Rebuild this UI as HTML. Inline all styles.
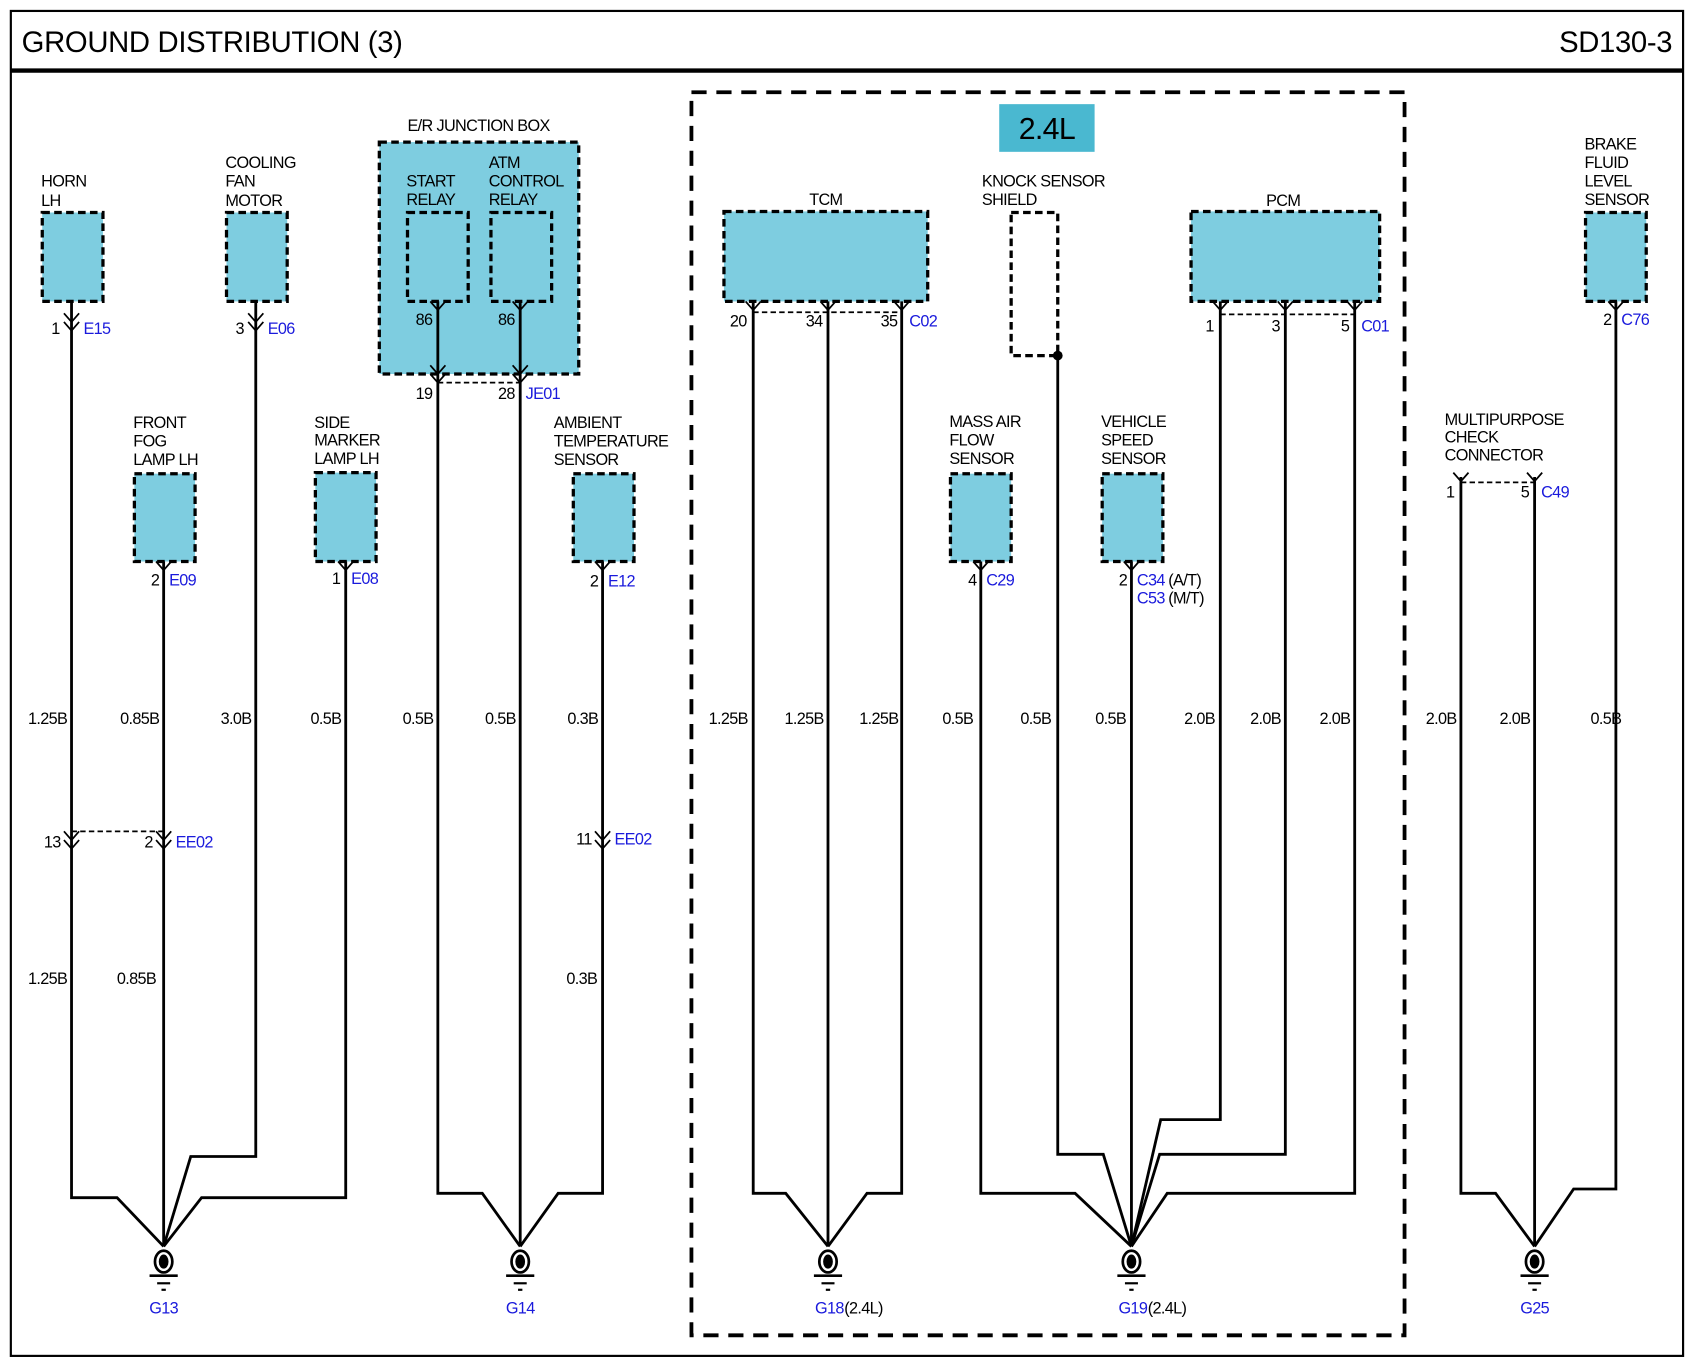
<!DOCTYPE html>
<html><head><meta charset="utf-8"><style>
html,body{margin:0;padding:0;background:#fff}
svg{display:block}
text{font-family:"Liberation Sans",sans-serif;font-size:15px;fill:#000;letter-spacing:-0.6px}
.b{fill:#1a1adc}
.box{fill:#7ecde0;stroke:#000;stroke-width:3;stroke-dasharray:7 4}
.w{fill:none;stroke:#000;stroke-width:2.6}
.c{fill:none;stroke:#000;stroke-width:1.6}
</style></head><body>
<svg width="1695" height="1369" viewBox="0 0 1564 1263" xmlns="http://www.w3.org/2000/svg">
<rect x="10" y="10" width="1543" height="1241" fill="none" stroke="#000" stroke-width="2"/>
<line x1="10" y1="65" x2="1553" y2="65" stroke="#000" stroke-width="4"/>
<text x="20" y="48" style="font-size:27px;letter-spacing:-0.3px">GROUND DISTRIBUTION (3)</text>
<text x="1543" y="48" text-anchor="end" style="font-size:27px;letter-spacing:-0.3px">SD130-3</text>

<rect x="638" y="85" width="658" height="1147" fill="none" stroke="#000" stroke-width="3.5" stroke-dasharray="14 9"/>
<rect x="922" y="96" width="88" height="44" fill="#4ab8d0"/>
<text x="966" y="128" text-anchor="middle" style="font-size:28px">2.4L</text>

<rect class="box" x="39" y="196" width="56" height="82"/>
<rect class="box" x="209" y="196" width="56" height="82"/>
<rect class="box" x="350" y="131" width="184" height="214"/>
<rect class="box" x="376" y="196" width="56" height="82"/>
<rect class="box" x="453" y="196" width="56" height="82"/>
<rect class="box" x="124" y="437" width="56" height="81"/>
<rect class="box" x="291" y="436" width="56" height="82"/>
<rect class="box" x="529" y="437" width="56" height="81"/>
<rect class="box" x="668" y="195" width="188" height="83"/>
<rect x="933" y="196" width="43" height="132" fill="#fff" stroke="#000" stroke-width="3" stroke-dasharray="7 4"/>
<circle cx="976" cy="328" r="4.5"/>
<rect class="box" x="1099" y="195" width="174" height="83"/>
<rect class="box" x="877" y="437" width="56" height="81"/>
<rect class="box" x="1017" y="437" width="56" height="81"/>
<rect class="box" x="1463" y="196" width="56" height="82"/>

<text x="38" y="172">HORN</text><text x="38" y="190">LH</text>
<text x="208" y="155">COOLING</text><text x="208" y="172">FAN</text><text x="208" y="190">MOTOR</text>
<text x="376" y="121">E/R JUNCTION BOX</text>
<text x="375" y="172">START</text><text x="375" y="189">RELAY</text>
<text x="451" y="155">ATM</text><text x="451" y="172">CONTROL</text><text x="451" y="189">RELAY</text>
<text x="123" y="395">FRONT</text><text x="123" y="412">FOG</text><text x="123" y="429">LAMP LH</text>
<text x="290" y="395">SIDE</text><text x="290" y="411">MARKER</text><text x="290" y="428">LAMP LH</text>
<text x="511" y="395">AMBIENT</text><text x="511" y="412">TEMPERATURE</text><text x="511" y="429">SENSOR</text>
<text x="762" y="189" text-anchor="middle">TCM</text>
<text x="906" y="172">KNOCK SENSOR</text><text x="906" y="189">SHIELD</text>
<text x="1184" y="190" text-anchor="middle">PCM</text>
<text x="876" y="394">MASS AIR</text><text x="876" y="411">FLOW</text><text x="876" y="428">SENSOR</text>
<text x="1016" y="394">VEHICLE</text><text x="1016" y="411">SPEED</text><text x="1016" y="428">SENSOR</text>
<text x="1462" y="138">BRAKE</text><text x="1462" y="155">FLUID</text><text x="1462" y="172">LEVEL</text><text x="1462" y="189">SENSOR</text>
<text x="1333" y="392">MULTIPURPOSE</text><text x="1333" y="408">CHECK</text><text x="1333" y="425">CONNECTOR</text>

<g class="w">
<path d="M66 278V1105H108L151 1150"/>
<path d="M151 518V1150"/>
<path d="M236 278V1067H176L151 1150"/>
<path d="M319 518V1105H186L151 1150"/>
<path d="M404 278V1101H445L480 1150"/>
<path d="M480 278V1150"/>
<path d="M556 518V1101H515L480 1150"/>
<path d="M695 278V1101H725L764 1150"/>
<path d="M764 278V1150"/>
<path d="M832 278V1101H800L764 1150"/>
<path d="M905 518V1101H992L1044 1150"/>
<path d="M976 328V1065H1018L1044 1150"/>
<path d="M1044 518V1150"/>
<path d="M1126 278V1033H1071L1044 1150"/>
<path d="M1186 278V1065H1070L1044 1150"/>
<path d="M1250 278V1101H1077L1044 1150"/>
<path d="M1348 440V1101H1380L1416 1150"/>
<path d="M1416 440V1150"/>
<path d="M1491 278V1097H1452L1416 1150"/>
</g>

<g class="c">
<path d="M59 289L66 297L73 289M59 297L66 305L73 297"/>
<path d="M229 289L236 297L243 289M229 297L236 305L243 297"/>
<path d="M397 278L404 286L411 278M397 337L404 345L411 337M397 345L404 353L411 345"/>
<path d="M473 278L480 286L487 278M473 337L480 345L487 337M473 345L480 353L487 345"/>
<path d="M144 518L151 526L158 518"/>
<path d="M312 518L319 526L326 518"/>
<path d="M549 518L556 526L563 518"/>
<path d="M688 278L695 286L702 278M757 278L764 286L771 278M825 278L832 286L839 278"/>
<path d="M1119 278L1126 286L1133 278M1179 278L1186 286L1193 278M1243 278L1250 286L1257 278"/>
<path d="M898 518L905 526L912 518"/>
<path d="M1037 518L1044 526L1051 518"/>
<path d="M1484 278L1491 286L1498 278"/>
<path d="M1341 436L1348 444L1355 436M1409 436L1416 444L1423 436"/>
<path d="M59 767L66 775L73 767M59 775L66 783L73 775"/>
<path d="M144 767L151 775L158 767M144 775L151 783L158 775"/>
<path d="M549 767L556 775L563 767M549 775L556 783L563 775"/>
</g>
<g stroke="#000" stroke-width="1.6" stroke-dasharray="5 3">
<line x1="404" y1="353" x2="480" y2="353"/>
<line x1="695" y1="288" x2="832" y2="288"/>
<line x1="1126" y1="290" x2="1250" y2="290"/>
<line x1="1348" y1="445" x2="1416" y2="445"/>
<line x1="66" y1="767" x2="151" y2="767"/>
</g>

<text x="55" y="308" text-anchor="end">1</text><text x="77" y="308" class="b">E15</text>
<text x="225" y="308" text-anchor="end">3</text><text x="247" y="308" class="b">E06</text>
<text x="399" y="300" text-anchor="end">86</text><text x="475" y="300" text-anchor="end">86</text>
<text x="399" y="368" text-anchor="end">19</text><text x="475" y="368" text-anchor="end">28</text><text x="485" y="368" class="b">JE01</text>
<text x="147" y="540" text-anchor="end">2</text><text x="156" y="540" class="b">E09</text>
<text x="314" y="539" text-anchor="end">1</text><text x="324" y="539" class="b">E08</text>
<text x="552" y="541" text-anchor="end">2</text><text x="561" y="541" class="b">E12</text>
<text x="689" y="301" text-anchor="end">20</text><text x="759" y="301" text-anchor="end">34</text><text x="828" y="301" text-anchor="end">35</text><text x="839" y="301" class="b">C02</text>
<text x="1120" y="306" text-anchor="end">1</text><text x="1181" y="306" text-anchor="end">3</text><text x="1245" y="306" text-anchor="end">5</text><text x="1256" y="306" class="b">C01</text>
<text x="901" y="540" text-anchor="end">4</text><text x="910" y="540" class="b">C29</text>
<text x="1040" y="540" text-anchor="end">2</text><text x="1049" y="540" class="b">C34</text><text x="1078" y="540">(A/T)</text>
<text x="1049" y="557" class="b">C53</text><text x="1078" y="557">(M/T)</text>
<text x="1487" y="300" text-anchor="end">2</text><text x="1496" y="300" class="b">C76</text>
<text x="1342" y="459" text-anchor="end">1</text><text x="1411" y="459" text-anchor="end">5</text><text x="1422" y="459" class="b">C49</text>
<text x="56" y="782" text-anchor="end">13</text>
<text x="141" y="782" text-anchor="end">2</text><text x="162" y="782" class="b">EE02</text>
<text x="546" y="779" text-anchor="end">11</text><text x="567" y="779" class="b">EE02</text>

<g text-anchor="end">
<text x="62" y="668">1.25B</text><text x="147" y="668">0.85B</text><text x="232" y="668">3.0B</text><text x="315" y="668">0.5B</text>
<text x="400" y="668">0.5B</text><text x="476" y="668">0.5B</text><text x="552" y="668">0.3B</text>
<text x="690" y="668">1.25B</text><text x="760" y="668">1.25B</text><text x="829" y="668">1.25B</text>
<text x="898" y="668">0.5B</text><text x="970" y="668">0.5B</text><text x="1039" y="668">0.5B</text>
<text x="1121" y="668">2.0B</text><text x="1182" y="668">2.0B</text><text x="1246" y="668">2.0B</text>
<text x="1344" y="668">2.0B</text><text x="1412" y="668">2.0B</text><text x="1496" y="668">0.5B</text>
<text x="62" y="908">1.25B</text><text x="144" y="908">0.85B</text><text x="551" y="908">0.3B</text>
</g>

<g stroke="#000" fill="none">
<g transform="translate(151,0)"><ellipse cx="0" cy="1164" rx="8" ry="10" stroke-width="2.5"/><ellipse cx="0" cy="1164" rx="4" ry="6" fill="#000"/><line x1="-13" y1="1177" x2="13" y2="1177" stroke-width="2.5"/><line x1="-6" y1="1184" x2="6" y2="1184" stroke-width="2"/><line x1="-2" y1="1190" x2="2" y2="1190" stroke-width="2"/></g>
<g transform="translate(480,0)"><ellipse cx="0" cy="1164" rx="8" ry="10" stroke-width="2.5"/><ellipse cx="0" cy="1164" rx="4" ry="6" fill="#000"/><line x1="-13" y1="1177" x2="13" y2="1177" stroke-width="2.5"/><line x1="-6" y1="1184" x2="6" y2="1184" stroke-width="2"/><line x1="-2" y1="1190" x2="2" y2="1190" stroke-width="2"/></g>
<g transform="translate(764,0)"><ellipse cx="0" cy="1164" rx="8" ry="10" stroke-width="2.5"/><ellipse cx="0" cy="1164" rx="4" ry="6" fill="#000"/><line x1="-13" y1="1177" x2="13" y2="1177" stroke-width="2.5"/><line x1="-6" y1="1184" x2="6" y2="1184" stroke-width="2"/><line x1="-2" y1="1190" x2="2" y2="1190" stroke-width="2"/></g>
<g transform="translate(1044,0)"><ellipse cx="0" cy="1164" rx="8" ry="10" stroke-width="2.5"/><ellipse cx="0" cy="1164" rx="4" ry="6" fill="#000"/><line x1="-13" y1="1177" x2="13" y2="1177" stroke-width="2.5"/><line x1="-6" y1="1184" x2="6" y2="1184" stroke-width="2"/><line x1="-2" y1="1190" x2="2" y2="1190" stroke-width="2"/></g>
<g transform="translate(1416,0)"><ellipse cx="0" cy="1164" rx="8" ry="10" stroke-width="2.5"/><ellipse cx="0" cy="1164" rx="4" ry="6" fill="#000"/><line x1="-13" y1="1177" x2="13" y2="1177" stroke-width="2.5"/><line x1="-6" y1="1184" x2="6" y2="1184" stroke-width="2"/><line x1="-2" y1="1190" x2="2" y2="1190" stroke-width="2"/></g>
</g>
<text x="151" y="1212" text-anchor="middle" class="b">G13</text>
<text x="480" y="1212" text-anchor="middle" class="b">G14</text>
<text x="752" y="1212" class="b">G18</text><text x="779" y="1212">(2.4L)</text>
<text x="1032" y="1212" class="b">G19</text><text x="1059" y="1212">(2.4L)</text>
<text x="1416" y="1212" text-anchor="middle" class="b">G25</text>
</svg>
</body></html>
